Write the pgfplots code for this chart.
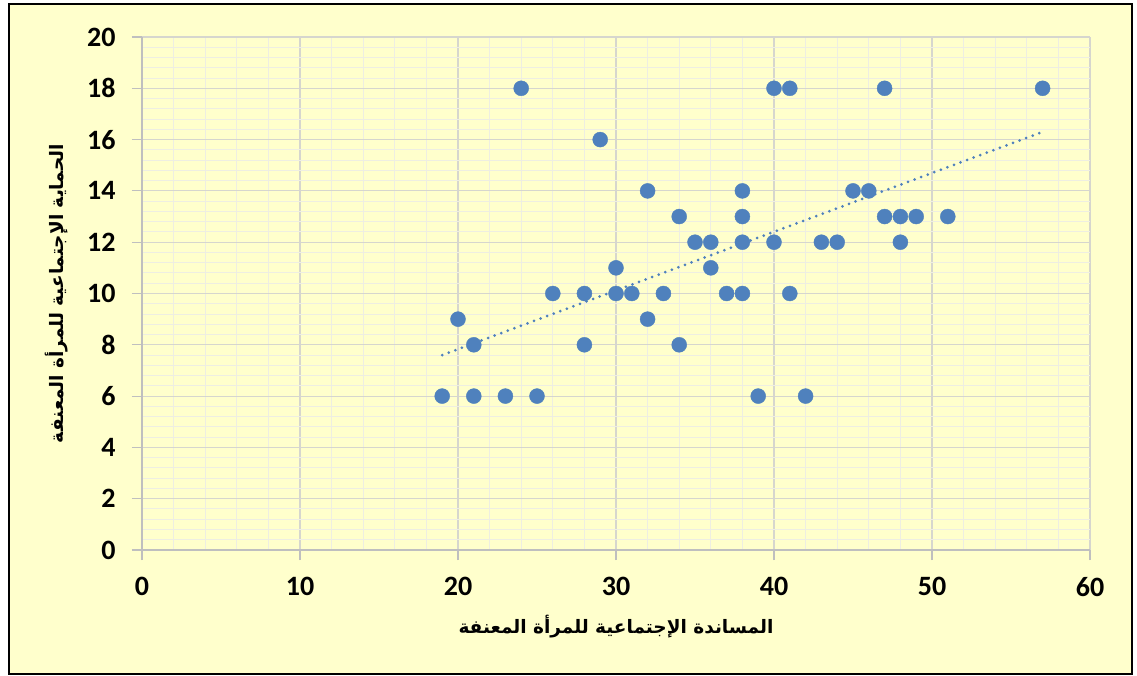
\documentclass[border=0pt]{standalone}
\usepackage{fontspec}
\setmainfont{Carlito}
\newfontfamily\arabicfont[Script=Arabic]{DejaVu Sans}
\usepackage{pgfplots}
\pgfplotsset{compat=1.18}
\TeXXeTstate=1
\definecolor{bgyellow}{RGB}{255,255,204}
\definecolor{ptblue}{RGB}{79,129,189}
\definecolor{majgrid}{RGB}{214,214,206}
\definecolor{mingrid}{RGB}{238,238,226}
\definecolor{axgray}{RGB}{191,191,191}
\begin{document}
\begin{tikzpicture}[x=1pt,y=1pt]
\fill[white] (0,0) rectangle (1137,675);
\filldraw[fill=bgyellow, draw=black, line width=2pt] (9,1) rectangle (1132,671);
\begin{axis}[
  at={(142pt,125pt)}, anchor=south west,
  scale only axis, width=948pt, height=513pt,
  xmin=0, xmax=60, ymin=0, ymax=20,
  xtick={0,10,...,60}, ytick={0,2,...,20},
  minor x tick num=4, minor y tick num=4,
  grid=both,
  major grid style={majgrid, line width=1.1pt},
  minor grid style={mingrid, line width=1pt},
  axis x line*=bottom, axis y line*=left,
  axis line style={axgray, line width=1.5pt, -},
  tick align=outside, major tick length=10pt, minor tick length=0pt,
  tick style={axgray, line width=1.2pt},
  ticklabel style={font=\fontsize{28}{28}\selectfont\bfseries, text=black},
  xticklabel style={yshift=-14pt},
  yticklabel style={xshift=-13pt},
  /pgf/number format/assume math mode=true,
  xlabel={\arabicfont\bfseries\fontsize{18.5}{18.5}\selectfont\beginR المساندة الإجتماعية للمرأة المعنفة\endR},
  ylabel={\arabicfont\bfseries\fontsize{18.5}{18.5}\selectfont\beginR الحماية الإجتماعية للمرأة المعنفة\endR},
  xlabel style={at={(axis description cs:0.5,-0.150)}, anchor=center},
  ylabel style={at={(axis description cs:-0.0897,0.5)}, anchor=center},
  clip=false,
]
\addplot[only marks, mark=*, mark size=7.5pt, mark options={fill=ptblue, draw=ptblue}] coordinates {
(19,6) (20,9) (21,8) (21,6) (23,6) (24,18) (25,6) (26,10) (28,10) (28,8)
(29,16) (30,11) (30,10) (31,10) (32,14) (32,9) (33,10) (34,13) (34,8) (35,12)
(36,12) (36,11) (37,10) (38,14) (38,13) (38,12) (38,10) (39,6) (40,18) (40,12)
(41,18) (41,10) (42,6) (43,12) (44,12) (45,14) (46,14) (47,18) (47,13) (48,13)
(48,12) (49,13) (51,13) (57,18)
};
\addplot[ptblue, line width=3pt, line cap=round, dash pattern=on 0pt off 7pt] coordinates {(19,7.6) (57,16.3)};
\end{axis}
\end{tikzpicture}
\end{document}
